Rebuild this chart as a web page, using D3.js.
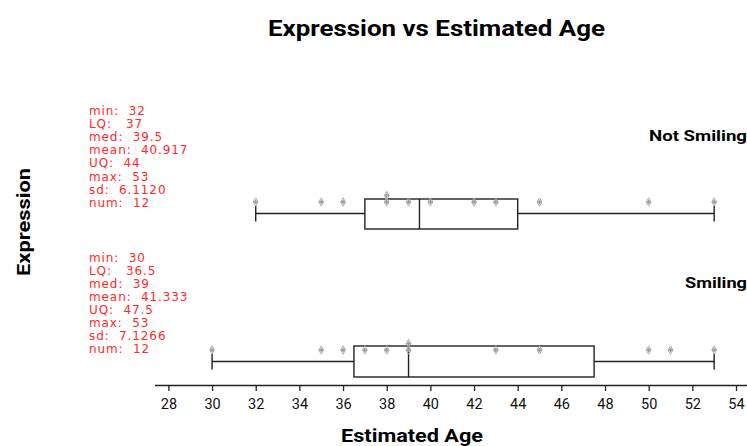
<!DOCTYPE html>
<html><head><meta charset="utf-8">
<script src="https://cdn.jsdelivr.net/npm/d3@7"></script>
<style>body{margin:0;background:#fff}svg{display:block}</style>
</head><body>
<script>
const groups = ["Not Smiling", "Smiling"];
const notSmiling = [32, 35, 36, 38, 38, 39, 40, 42, 43, 45, 50, 53];
const smiling = [30, 35, 36, 37, 38, 39, 39, 43, 45, 50, 51, 53];
const statsNotSmiling = {min: "32", LQ: "37", med: "39.5", mean: "40.917", UQ: "44", max: "53", sd: "6.1120", num: "12"};
const statsSmiling = {min: "30", LQ: "36.5", med: "39", mean: "41.333", UQ: "47.5", max: "53", sd: "7.1266", num: "12"};
const boxNotSmiling = {min: 32, q1: 37, med: 39.5, q3: 44, max: 53};
const boxSmiling = {min: 30, q1: 36.5, med: 39, q3: 47.5, max: 53};
const xTicks = [28, 30, 32, 34, 36, 38, 40, 42, 44, 46, 48, 50, 52, 54];

const W = 747, H = 446;
const svg = d3.select("body").append("svg").attr("width", W).attr("height", H);
const x = d3.scaleLinear().domain([28, 54]).range([168.4, 736.0]);

svg.append("text").attr("x", 436.5).attr("y", 36).attr("text-anchor", "middle")
  .attr("font-family", "Roboto").attr("font-weight", "bold").attr("font-size", 22.5)
  .attr("textLength", 337).attr("lengthAdjust", "spacingAndGlyphs")
  .text("Expression vs Estimated Age");
svg.append("text").attr("transform", "translate(30,222) rotate(-90)").attr("text-anchor", "middle")
  .attr("font-family", "Roboto").attr("font-weight", "bold").attr("font-size", 19)
  .attr("textLength", 108).attr("lengthAdjust", "spacingAndGlyphs")
  .text("Expression");
svg.append("text").attr("x", 412).attr("y", 442).attr("text-anchor", "middle")
  .attr("font-family", "Roboto").attr("font-weight", "bold").attr("font-size", 19)
  .attr("textLength", 142).attr("lengthAdjust", "spacingAndGlyphs")
  .text("Estimated Age");

const axis = d3.axisBottom(x).tickValues(xTicks).tickSize(6).tickSizeOuter(0).tickPadding(8);
const ag = svg.append("g").attr("transform", "translate(0,385)").call(axis);
ag.select(".domain").attr("d", "M155,0.5H747").attr("stroke", "#222").attr("stroke-width", 1.3);
ag.selectAll(".tick line").attr("stroke", "#222").attr("stroke-width", 1.3);
ag.selectAll(".tick text").attr("font-family", "Roboto").attr("font-size", 14.5).attr("fill", "#111");

const datasets = [
  {name: "Not Smiling", vals: notSmiling, stats: statsNotSmiling, box: boxNotSmiling, statTop: 115, labelY: 141, labelW: 98, mid: 213.5, boxTop: 199, boxBot: 229, ptY: 202},
  {name: "Smiling", vals: smiling, stats: statsSmiling, box: boxSmiling, statTop: 261.5, labelY: 288, labelW: 62, mid: 361.5, boxTop: 346, boxBot: 377, ptY: 350}
];

const diamond = d3.symbol().type(d3.symbolDiamond).size(20);
const cross = d3.symbol().type(d3.symbolCross).size(9);

datasets.forEach(ds => {
  const g = svg.append("g");
  const keys = ["min", "LQ", "med", "mean", "UQ", "max", "sd", "num"];
  const labels = {min: "min:  ", LQ: "LQ:   ", med: "med:  ", mean: "mean:  ", UQ: "UQ:  ", max: "max:  ", sd: "sd:  ", num: "num:  "};
  keys.forEach((k, i) => {
    g.append("text").attr("x", 89).attr("y", ds.statTop + i * 13.1)
      .attr("font-family", "DejaVu Sans").attr("font-size", 12).attr("fill", "#ff2a2a")
      .attr("letter-spacing", 0.9)
      .attr("xml:space", "preserve").style("white-space", "pre")
      .text(labels[k] + ds.stats[k]);
  });
  g.append("text").attr("x", 747).attr("y", ds.labelY).attr("text-anchor", "end")
    .attr("font-family", "Roboto").attr("font-weight", "bold").attr("font-size", 15.5)
    .attr("textLength", ds.labelW).attr("lengthAdjust", "spacingAndGlyphs")
    .text(ds.name);
  const b = ds.box;
  const line = (x1, y1, x2, y2) => g.append("line").attr("x1", x1).attr("y1", y1).attr("x2", x2).attr("y2", y2)
    .attr("stroke", "#222").attr("stroke-width", 1.4);
  line(x(b.min), ds.mid, x(b.q1), ds.mid);
  line(x(b.q3), ds.mid, x(b.max), ds.mid);
  line(x(b.min), ds.mid - 8, x(b.min), ds.mid + 8);
  line(x(b.max), ds.mid - 8, x(b.max), ds.mid + 8);
  g.append("rect").attr("x", x(b.q1)).attr("y", ds.boxTop).attr("width", x(b.q3) - x(b.q1))
    .attr("height", ds.boxBot - ds.boxTop).attr("fill", "none").attr("stroke", "#222").attr("stroke-width", 1.4);
  line(x(b.med), ds.boxTop, x(b.med), ds.boxBot);
  const seen = {};
  ds.vals.forEach(v => {
    const n = seen[v] || 0; seen[v] = n + 1;
    const py = ds.ptY - n * 6.5;
    g.append("path").attr("d", diamond).attr("transform", `translate(${x(v)},${py})`)
      .attr("fill", "none").attr("stroke", "#aaa").attr("stroke-width", 1);
    g.append("path").attr("d", cross).attr("transform", `translate(${x(v)},${py})`)
      .attr("fill", "#999");
  });
});
</script>
</body></html>
